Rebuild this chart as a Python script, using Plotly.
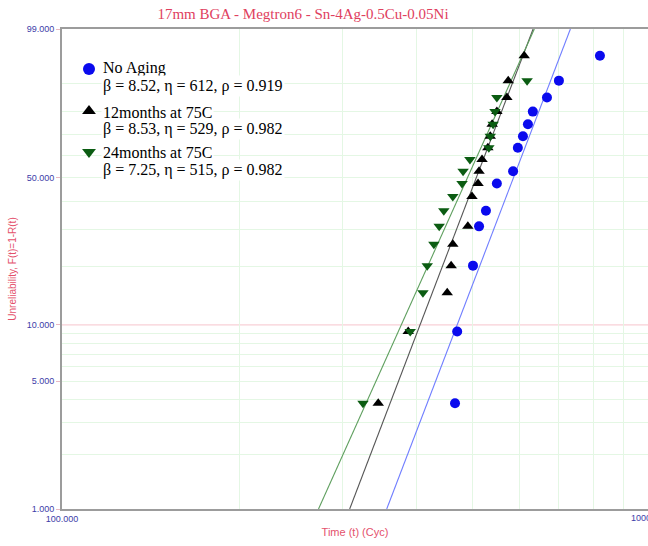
import numpy as np
import plotly.graph_objects as go

# ---------------- data ----------------
title_text = "17mm BGA - Megtron6 - Sn-4Ag-0.5Cu-0.05Ni"
series_names = ["No Aging", "12months at 75C", "24months at 75C"]

noaging_t = [466, 470, 500, 512, 526, 549, 585, 596, 608, 620, 632, 668, 700, 822]
noaging_F = [3.80, 9.24, 20.11, 30.98, 36.41, 47.28, 52.72, 63.59, 69.02, 74.46,
             79.89, 85.33, 90.76, 96.20]

m12_t = [345, 388, 452, 459, 462, 490, 498, 510, 512, 518, 530, 535, 539, 549, 571, 574, 611]
m12_F = [3.80, 9.24, 14.67, 20.11, 25.54, 30.98, 41.85, 47.28, 52.72, 58.15, 63.59,
         69.02, 74.46, 79.89, 85.33, 90.76, 96.20]

m24_t = [325, 391, 411, 418, 429, 438, 446, 462, 479, 481, 494, 532, 535, 541, 545, 549, 618]
m24_F = [3.80, 9.24, 14.67, 20.11, 25.54, 30.98, 36.41, 41.85, 47.28, 52.72, 58.15,
         63.59, 69.02, 74.46, 79.89, 85.33, 90.76]

beta = [8.52, 8.53, 7.25]
eta = [612, 529, 515]
rho = [0.919, 0.982, 0.982]

y_tick_pct = [1, 5, 10, 50, 99]
y_tick_text = ["1.000", "5.000", "10.000", "50.000", "99.000"]
y_grid_pct = [2, 3, 4, 5, 6, 7, 8, 9, 20, 30, 40, 50, 60, 70, 80, 90]
x_tick_vals = [100, 1000]
x_tick_text = ["100.000", "1000.000"]
x_grid_vals = [200, 300, 400, 500, 600, 700, 800, 900]

# ---------------- helpers ----------------
def wb(pct):
    p = np.asarray(pct, dtype=float) / 100.0
    return np.log(-np.log(1.0 - p))

W_MIN, W_MAX = float(wb(1)), float(wb(99))

W, H = 648, 546
ML, MT, MB = 62, 29, 37
PLOT_W = W - ML
PLOT_H = H - MT - MB
X_RANGE = [2.0, 2.0 + PLOT_W / 588.0]

def px_x(px):
    return (px - ML) / PLOT_W

def px_y(py):
    return (H - MB - py) / PLOT_H

marker_colors = ["#0a0aee", "#000000", "#0b5c12"]
line_colors = ["#6f7dff", "#555555", "#5f9f5f"]
symbols = ["circle", "triangle-up", "triangle-down"]

fig = go.Figure()

datasets = [(noaging_t, noaging_F), (m12_t, m12_F), (m24_t, m24_F)]

# fitted lines
for i in range(3):
    tl = [eta[i] * np.exp(W_MIN / beta[i]), eta[i] * np.exp(W_MAX / beta[i])]
    fig.add_trace(go.Scatter(
        x=tl, y=[W_MIN, W_MAX], mode="lines",
        line=dict(color=line_colors[i], width=1.1),
        showlegend=False, hoverinfo="skip"))

# data points
for i, (t, F) in enumerate(datasets):
    fig.add_trace(go.Scatter(
        x=t, y=wb(F), mode="markers",
        marker=dict(symbol=symbols[i], color=marker_colors[i], size=10,
                    line=dict(width=0)),
        name=series_names[i], showlegend=False))

# legend keys (on an overlay axis spanning the plot)
key_y_px = [69, 111, 152]
for i in range(3):
    fig.add_trace(go.Scatter(
        x=[px_x(89)], y=[px_y(key_y_px[i])], mode="markers",
        xaxis="x2", yaxis="y2",
        marker=dict(symbol=symbols[i], color=marker_colors[i], size=12,
                    line=dict(width=0)),
        showlegend=False, hoverinfo="skip"))

# legend text
text_rows = [(68, 86), (112, 129), (152, 170)]
for i in range(3):
    l1, l2 = text_rows[i]
    fig.add_annotation(xref="paper", yref="paper", x=px_x(101), y=px_y(l1),
                       xanchor="left", yanchor="middle", showarrow=False,
                       text=series_names[i], bgcolor="white",
                       font=dict(family="Liberation Serif", size=16, color="#000"))
    fig.add_annotation(xref="paper", yref="paper", x=px_x(101), y=px_y(l2),
                       xanchor="left", yanchor="middle", showarrow=False,
                       text=f"β = {beta[i]:.2f}, η = {eta[i]}, ρ = {rho[i]:.3f}",
                       bgcolor="white",
                       font=dict(family="Liberation Serif", size=16, color="#000"))

# 10% reference line (pink)
fig.add_shape(type="line", xref="paper", yref="y", x0=0, x1=1,
              y0=float(wb(10)), y1=float(wb(10)),
              line=dict(color="#f6c4cc", width=1), layer="below")

# 1000.000 label (partly beyond the window edge, as in the reference)
fig.add_annotation(xref="paper", yref="paper", x=(3.0 - X_RANGE[0]) / (X_RANGE[1] - X_RANGE[0]),
                   y=0, yanchor="top", yshift=-2, xanchor="center", showarrow=False,
                   text=x_tick_text[1],
                   font=dict(family="Liberation Sans", size=9, color="#3c3ca8"))

tick_font = dict(family="Liberation Sans", size=9, color="#3c3ca8")

fig.update_layout(
    width=W, height=H,
    margin=dict(l=ML, r=0, t=MT, b=MB, pad=0),
    paper_bgcolor="white", plot_bgcolor="white",
    showlegend=False,
    title=dict(text=title_text, x=303 / W, xref="container", xanchor="center",
               y=1 - 14 / H, yref="container", yanchor="middle",
               font=dict(family="Liberation Serif", size=15, color="#e0405e")),
    xaxis=dict(type="log", range=X_RANGE,
               tickmode="array", tickvals=x_tick_vals, ticktext=x_tick_text,
               tickfont=tick_font, ticks="", showgrid=False, zeroline=False,
               showline=True, linecolor="#9c9c9c", linewidth=2, mirror=True,
               minor=dict(tickmode="array", tickvals=x_grid_vals, showgrid=True,
                          gridcolor="#e4f7e4", gridwidth=1, ticks=""),
               title=dict(text="Time (t) (Cyc)", standoff=6,
                          font=dict(family="Liberation Sans", size=11, color="#e4506c"))),
    yaxis=dict(range=[W_MIN, W_MAX],
               tickmode="array", tickvals=list(wb(y_tick_pct)), ticktext=y_tick_text,
               tickfont=tick_font, ticks="outside", ticklen=4, tickcolor="#e9b9c2",
               showgrid=False, zeroline=False,
               showline=True, linecolor="#9c9c9c", linewidth=2, mirror=False,
               minor=dict(tickmode="array", tickvals=list(wb(y_grid_pct)), showgrid=True,
                          gridcolor="#e4f7e4", gridwidth=1, ticks=""),
               title=dict(text="Unreliability, F(t)=1-R(t)", standoff=8,
                          font=dict(family="Liberation Sans", size=10, color="#e4506c"))),
    xaxis2=dict(overlaying="x", range=[0, 1], visible=False, fixedrange=True),
    yaxis2=dict(overlaying="y", range=[0, 1], visible=False, fixedrange=True),
)

fig.write_html("out.html")
